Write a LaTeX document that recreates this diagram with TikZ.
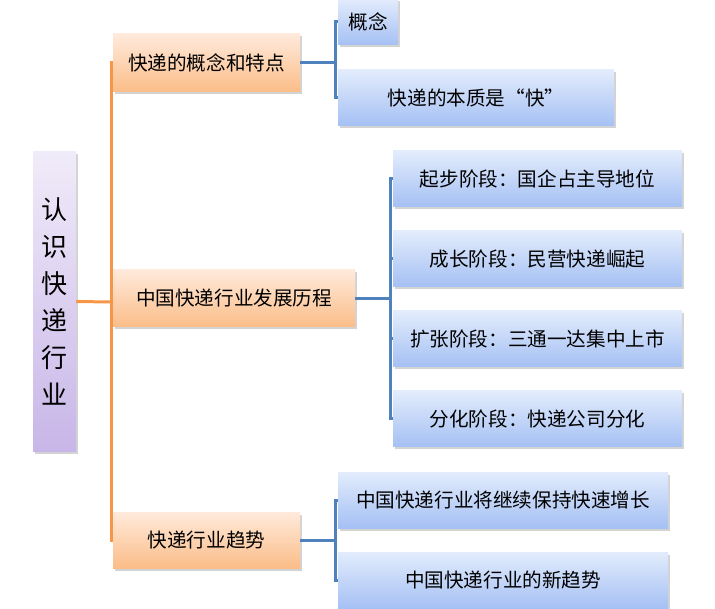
\documentclass[tikz,border=0pt]{standalone}
\usepackage{fontspec}
\setmainfont{Noto Sans CJK SC}
\usetikzlibrary{shadows}
\definecolor{orline}{HTML}{F79646}
\definecolor{blline}{HTML}{4F81BD}
\definecolor{ortop}{HTML}{FFEADB}
\definecolor{orbot}{HTML}{FBBD88}
\definecolor{bltop}{HTML}{E2ECFC}
\definecolor{blbot}{HTML}{A5C0F4}
\definecolor{pptop}{HTML}{F0EBF9}
\definecolor{ppbot}{HTML}{C8B6E8}
\tikzset{
  box/.style={rectangle, inner sep=0pt, text=black,
    drop shadow={opacity=0.35, shadow xshift=2pt, shadow yshift=-2.5pt}},
  orbox/.style={box, top color=ortop, bottom color=orbot, font=\fontsize{19.6pt}{22pt}\selectfont},
  blbox/.style={box, top color=bltop, bottom color=blbot, font=\fontsize{19.6pt}{22pt}\selectfont},
  rootbox/.style={box, top color=pptop, bottom color=ppbot, align=center,
    font=\fontsize{26pt}{37pt}\selectfont},
  orl/.style={draw=orline, line width=3pt},
  bll/.style={draw=blline, line width=3pt},
}
\begin{document}
\begin{tikzpicture}[x=1pt,y=-1pt]
\useasboundingbox (0,0) rectangle (715,609);
% nodes
\node[rootbox, minimum width=43pt, minimum height=299pt] (root) at (54.5,301.5) {认\\识\\快\\递\\行\\业};
\node[orbox, minimum width=187pt, minimum height=58pt] (b1) at (206.5,63) {快递的概念和特点};
\node[orbox, minimum width=242pt, minimum height=57pt] (b2) at (234,298.5) {中国快递行业发展历程};
\node[orbox, minimum width=187pt, minimum height=56pt] (b3) at (206.5,540) {快递行业趋势};
\node[blbox, minimum width=60pt, minimum height=46pt] (c11) at (368,22) {概念};
\node[blbox, minimum width=276pt, minimum height=56pt] (c12) at (476,98) {快递的本质是“快”};
\node[blbox, minimum width=289pt, minimum height=56pt] (c21) at (537.5,179) {起步阶段：国企占主导地位};
\node[blbox, minimum width=289pt, minimum height=56pt] (c22) at (537.5,259) {成长阶段：民营快递崛起};
\node[blbox, minimum width=289pt, minimum height=56pt] (c23) at (537.5,339) {扩张阶段：三通一达集中上市};
\node[blbox, minimum width=289pt, minimum height=56pt] (c24) at (537.5,419) {分化阶段：快递公司分化};
\node[blbox, minimum width=330pt, minimum height=56pt] (c31) at (503,500) {中国快递行业将继续保持快速增长};
\node[blbox, minimum width=330pt, minimum height=57pt] (c32) at (503,580.5) {中国快递行业的新趋势};
% junctions
\coordinate (t) at (111,302);
\coordinate (j1) at (335,63);
\coordinate (j2) at (390,298.5);
\coordinate (j3) at (335,540);
% orange trunk
\draw[orl] (root.east) -- (t);
\draw[orl] (t) |- (b1.west);
\draw[orl] (t) |- (b2.west);
\draw[orl] (t) |- (b3.west);
% blue brackets
\draw[bll] (b1.east) -- (j1);
\draw[bll] (j1) |- (c11.west);
\draw[bll] (j1) |- (c12.west);
\draw[bll] (b2.east) -- (j2);
\draw[bll] (j2) |- (c21.west);
\draw[bll] (j2) |- (c22.west);
\draw[bll] (j2) |- (c23.west);
\draw[bll] (j2) |- (c24.west);
\draw[bll] (b3.east) -- (j3);
\draw[bll] (j3) |- (c31.west);
\draw[bll] (j3) |- (c32.west);
\end{tikzpicture}
\end{document}
